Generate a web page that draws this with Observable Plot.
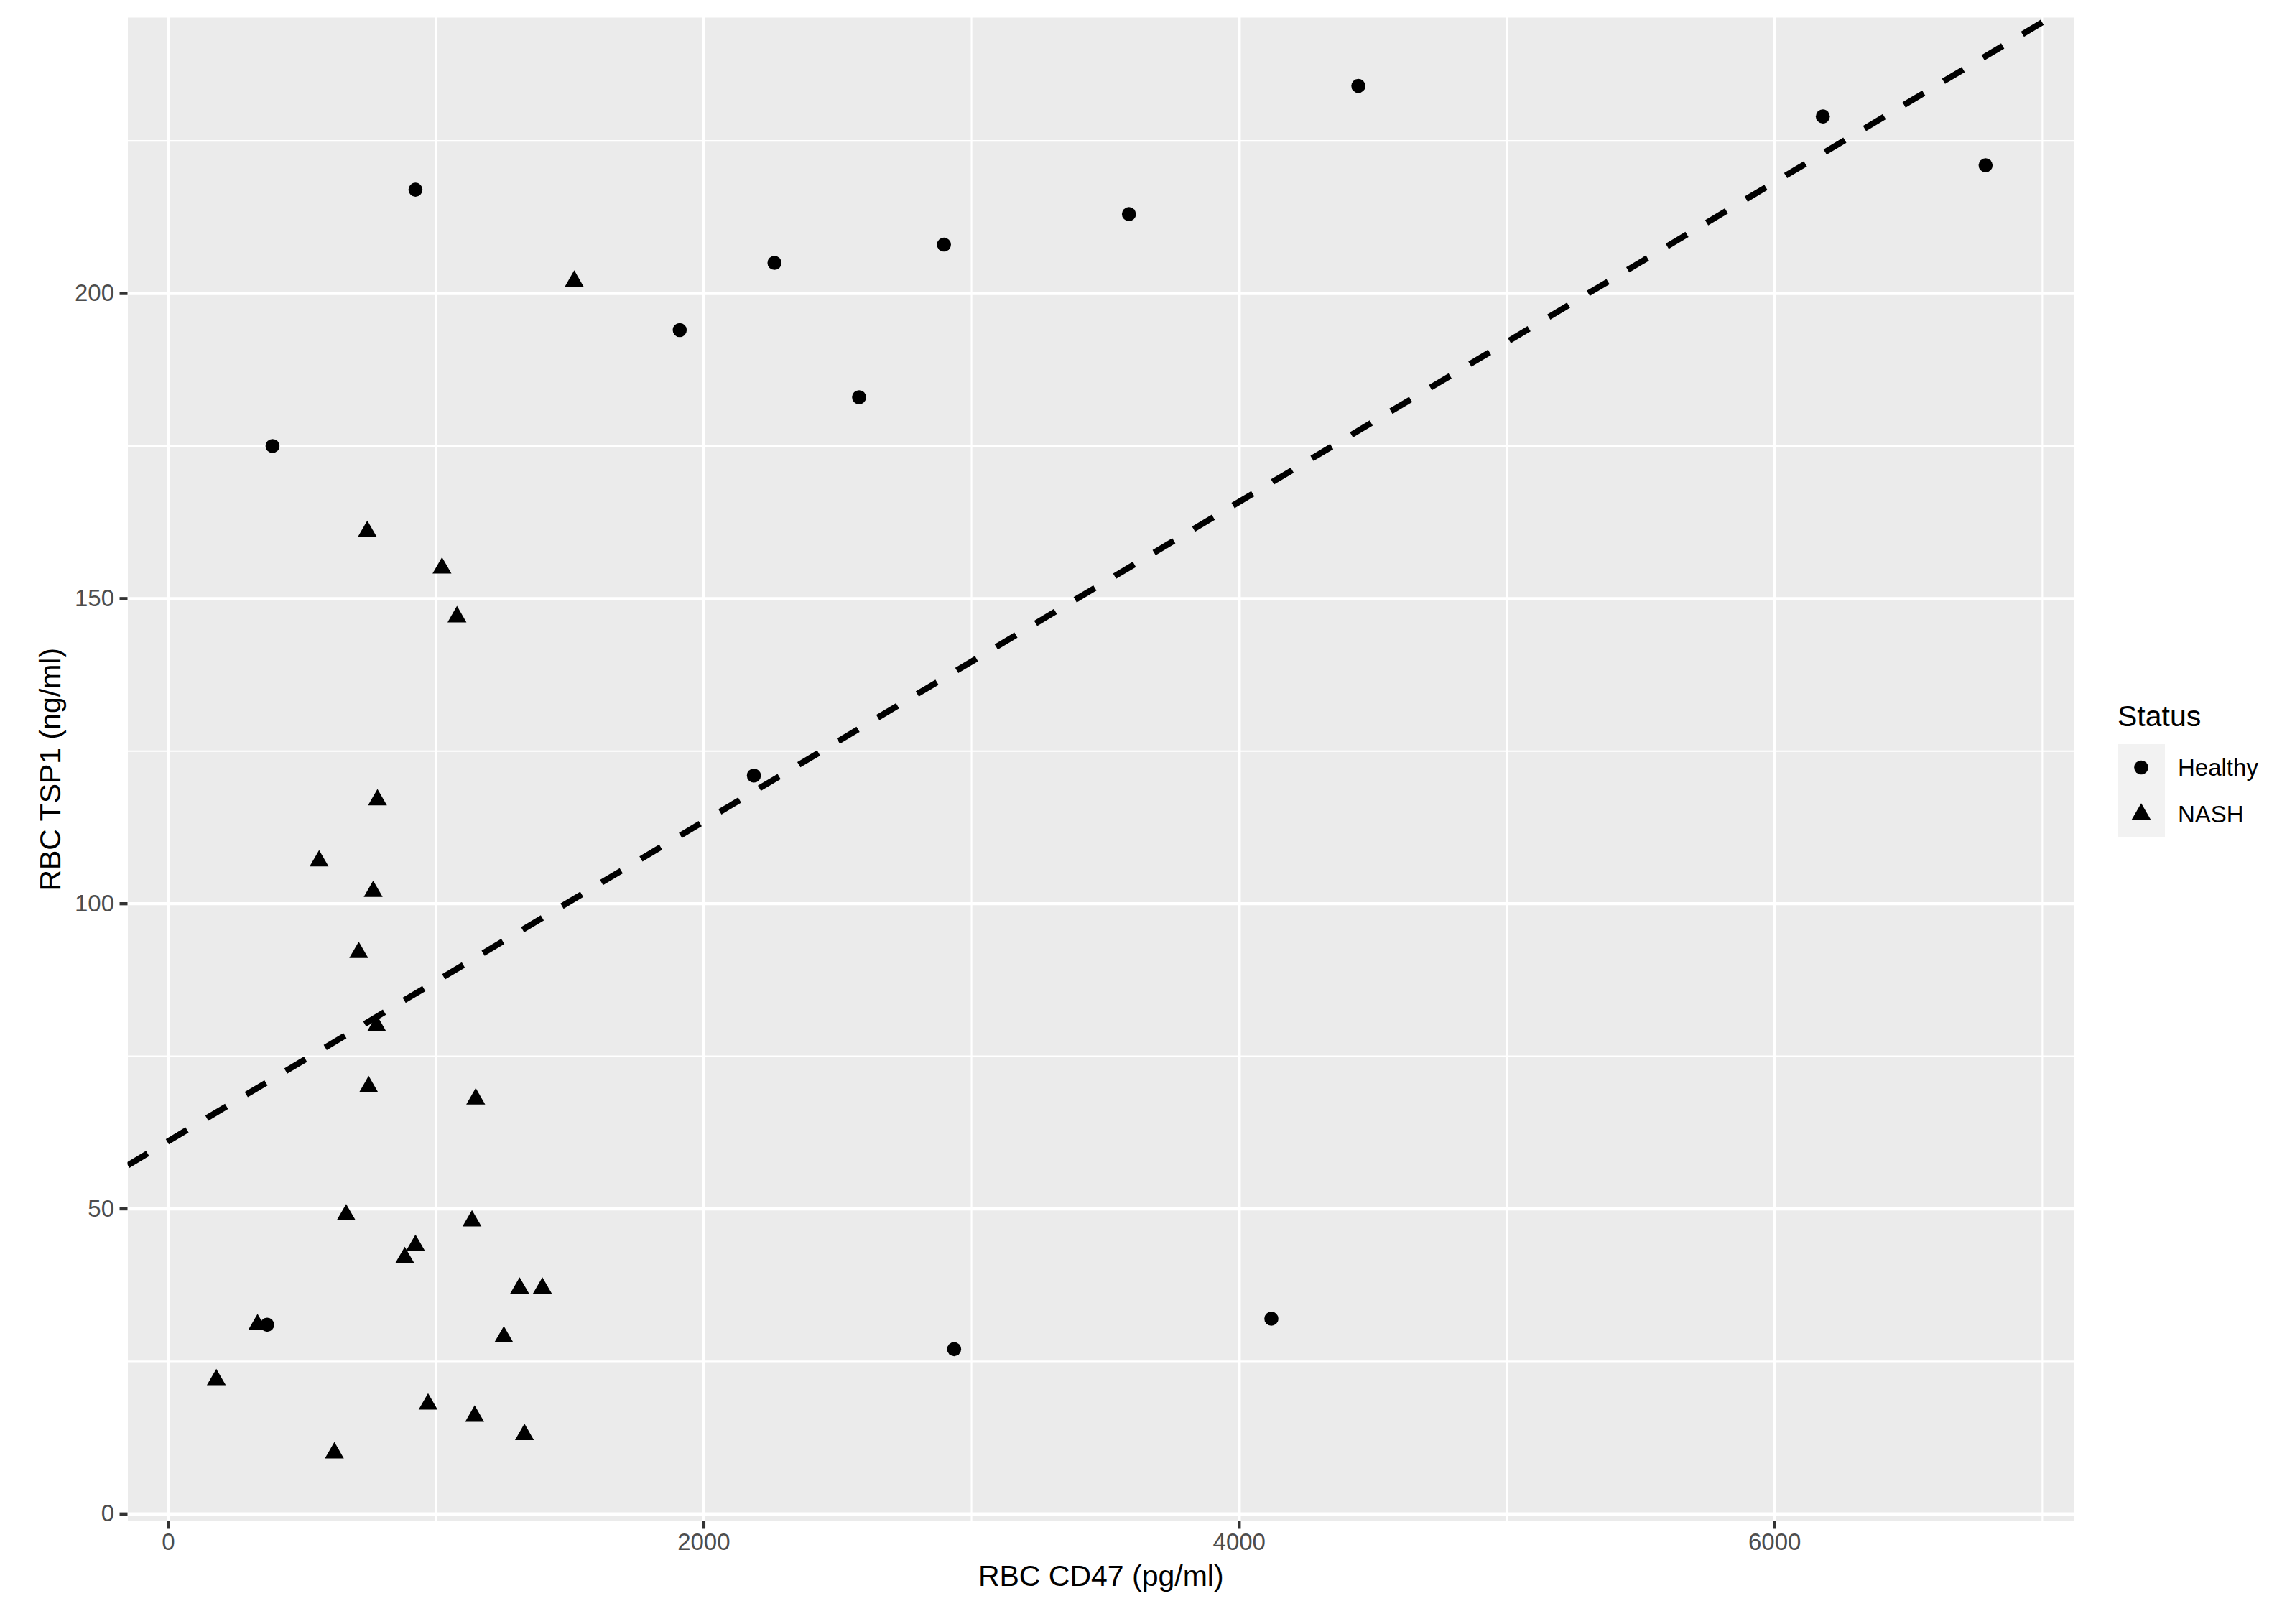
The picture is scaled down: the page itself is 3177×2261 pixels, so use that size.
<!DOCTYPE html>
<html>
<head>
<meta charset="utf-8">
<script src="https://cdn.jsdelivr.net/npm/d3@7"></script>
<script src="https://cdn.jsdelivr.net/npm/@observablehq/plot@0.6"></script>
<style>
  html, body { margin: 0; padding: 0; background: #ffffff; }
  #chart { position: relative; width: 3177px; height: 2261px; }
  #legend { position: absolute; left: 0; top: 0; pointer-events: none; }
</style>
</head>
<body>
<div id="chart"></div>
<script>
// ---------------- data ----------------
const statusLevels = ["Healthy", "NASH"];
const statusSymbols = ["circle", "triangle"];

const healthyCD47 = [923, 389, 1910, 2264, 2580, 2897, 3588, 4445, 6180, 6788, 2187, 369, 2935, 4120];
const healthyTSP1 = [217, 175, 194, 205, 183, 208, 213, 234, 229, 221, 121, 31, 27, 32];

const nashCD47 = [743, 1022, 1078, 781, 563, 765, 711, 778, 748, 1148, 664, 1134, 923, 883, 1312, 1397, 1253, 333, 179, 970, 1144, 1330, 620, 1516];
const nashTSP1 = [161, 155, 147, 117, 107, 102, 92, 80, 70, 68, 49, 48, 44, 42, 37, 37, 29, 31, 22, 18, 16, 13, 10, 202];

const xTicksMajor = [0, 2000, 4000, 6000];
const xTicksMinor = [1000, 3000, 5000, 7000];
const yTicksMajor = [0, 50, 100, 150, 200];
const yTicksMinor = [25, 75, 125, 175, 225];

const fitIntercept = 61.1;
const fitSlope = 0.02619;

const xTitle = "RBC CD47 (pg/ml)";
const yTitle = "RBC TSP1 (ng/ml)";
const legendTitle = "Status";

// ---------------- table ----------------
const rows = [
  ...healthyCD47.map((x, i) => ({cd47: x, tsp1: healthyTSP1[i], status: statusLevels[0]})),
  ...nashCD47.map((x, i) => ({cd47: x, tsp1: nashTSP1[i], status: statusLevels[1]}))
];

function expand(values, mult = 0.05) {
  const [lo, hi] = d3.extent(values);
  const pad = (hi - lo) * mult;
  return [lo - pad, hi + pad];
}
const xDomain = expand(rows.map(d => d.cd47));
const yDomain = expand(rows.map(d => d.tsp1));
const fitLine = xDomain.map(x => ({cd47: x, tsp1: fitIntercept + fitSlope * x}));

const FONT = "'Liberation Sans', Arial, Helvetica, sans-serif";
const W = 3177, H = 2261;
const mL = 177.5, mR = 290, mT = 24, mB = 143.5;
const R = 9.8;

const plot = Plot.plot({
  width: W,
  height: H,
  marginLeft: mL,
  marginRight: mR,
  marginTop: mT,
  marginBottom: mB,
  style: {fontFamily: FONT, background: "#ffffff", overflow: "visible"},
  x: {domain: xDomain},
  y: {domain: yDomain},
  symbol: {domain: statusLevels, range: statusSymbols},
  marks: [
    Plot.frame({fill: "#EBEBEB", stroke: "none"}),
    Plot.gridX({ticks: xTicksMinor, stroke: "#ffffff", strokeOpacity: 1, strokeWidth: 2.2}),
    Plot.gridY({ticks: yTicksMinor, stroke: "#ffffff", strokeOpacity: 1, strokeWidth: 2.2}),
    Plot.gridX({ticks: xTicksMajor, stroke: "#ffffff", strokeOpacity: 1, strokeWidth: 4.4}),
    Plot.gridY({ticks: yTicksMajor, stroke: "#ffffff", strokeOpacity: 1, strokeWidth: 4.4}),
    Plot.axisX({ticks: xTicksMajor, tickFormat: d3.format("d"), tickSize: 11, tickPadding: 6,
      fontSize: 33, stroke: "#333333", strokeWidth: 4.4, fill: "#4D4D4D", label: null}),
    Plot.axisY({ticks: yTicksMajor, tickFormat: d3.format("d"), tickSize: 11, tickPadding: 8,
      fontSize: 33, stroke: "#333333", strokeWidth: 4.4, fill: "#4D4D4D", label: null}),
    Plot.dot(rows, {x: "cd47", y: "tsp1", symbol: "status", fill: "#000000", stroke: "none", r: R}),
    Plot.line(fitLine, {x: "cd47", y: "tsp1", stroke: "#000000", strokeWidth: 8.5,
      strokeDasharray: "32,32", strokeLinecap: "butt", clip: true}),
    Plot.text([xTitle], {text: d => d, frameAnchor: "bottom", textAnchor: "middle", lineAnchor: "bottom", dy: 89.5,
      fontSize: 41, fill: "#000000"}),
    Plot.text([yTitle], {text: d => d, frameAnchor: "left", textAnchor: "middle", lineAnchor: "bottom", rotate: -90, dx: -94.5,
      fontSize: 41, fill: "#000000"})
  ]
});
document.getElementById("chart").appendChild(plot);

// ---------------- legend (ggplot-style, right side) ----------------
const leg = d3.select("#chart").append("svg")
  .attr("id", "legend")
  .attr("width", W).attr("height", H)
  .style("font-family", FONT);

leg.append("text")
  .attr("x", 2948).attr("y", 1011)
  .attr("font-size", 41).attr("fill", "#000000")
  .text(legendTitle);

statusLevels.forEach((lvl, i) => {
  const top = 1036 + i * 65;
  leg.append("rect")
    .attr("x", 2948).attr("y", top).attr("width", 66).attr("height", 65)
    .attr("fill", "#F2F2F2");
  const sym = i === 0 ? d3.symbolCircle : d3.symbolTriangle;
  leg.append("path")
    .attr("transform", `translate(2981,${top + 32.5})`)
    .attr("d", d3.symbol(sym, Math.PI * R * R)())
    .attr("fill", "#000000");
  leg.append("text")
    .attr("x", 3032).attr("y", top + 32.5 + 11.8)
    .attr("font-size", 33).attr("fill", "#000000")
    .text(lvl);
});
</script>
</body>
</html>
